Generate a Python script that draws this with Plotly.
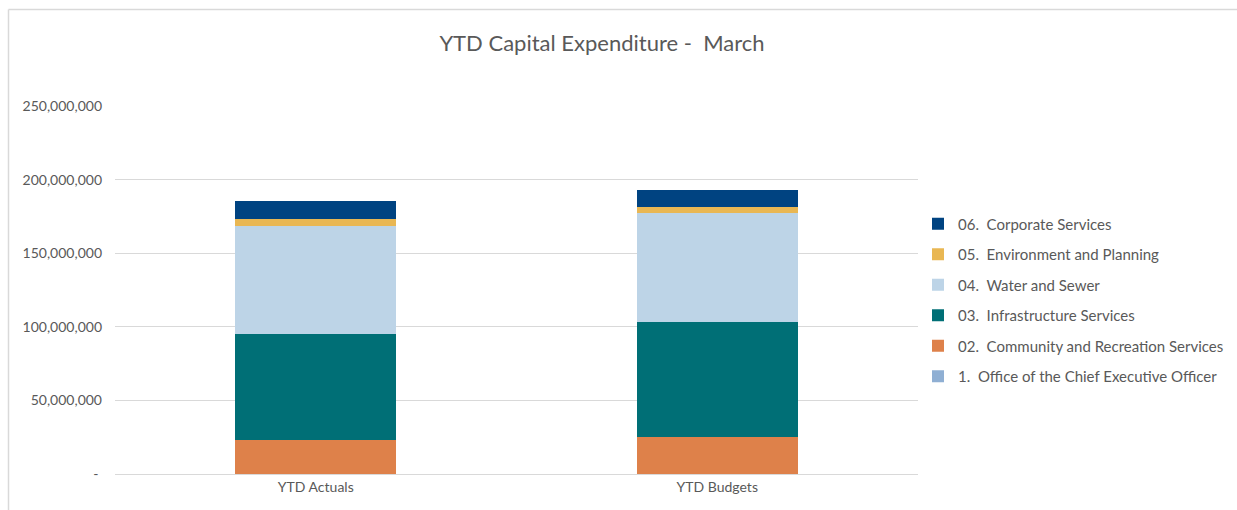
import plotly.graph_objects as go

categories = ["YTD Actuals", "YTD Budgets"]
series_names = [
    "1.  Office of the Chief Executive Officer",
    "02.  Community and Recreation Services",
    "03.  Infrastructure Services",
    "04.  Water and Sewer",
    "05.  Environment and Planning",
    "06.  Corporate Services",
]
ceo = [300000, 300000]
community = [22800000, 25100000]
infrastructure = [72000000, 77900000]
water = [73400000, 73800000]
environment = [4500000, 4500000]
corporate = [12500000, 11300000]
series_values = [ceo, community, infrastructure, water, environment, corporate]
colors = ["#8FAFD3", "#DE814A", "#006F76", "#BDD4E7", "#E9B753", "#004381"]

tick_vals = [0, 50000000, 100000000, 150000000, 200000000, 250000000]
tick_text = [" - ", "50,000,000", "100,000,000", "150,000,000", "200,000,000", "250,000,000"]

fig = go.Figure()
n = len(series_names)
for i, (name, vals, c) in enumerate(zip(series_names, series_values, colors)):
    fig.add_trace(go.Bar(
        x=categories, y=vals, name=name, marker_color=c,
        marker_line_width=0, legendrank=n - i, legendgroup=name,
    ))

font_family = "Lato, 'Open Sans', sans-serif"
fig.update_layout(
    barmode="stack",
    bargap=0.6,
    width=1237, height=510,
    margin=dict(l=115, r=319, t=106, b=36, autoexpand=False),
    paper_bgcolor="white", plot_bgcolor="white",
    title=dict(text="YTD Capital Expenditure -  March", x=602 / 1237, xanchor="center",
               y=1 - 43 / 510, yanchor="middle",
               font=dict(family=font_family, size=22, color="#595959")),
    font=dict(family=font_family, color="#595959", size=14),
    xaxis=dict(showgrid=False, showline=True, linecolor="#D9D9D9", linewidth=1,
               ticks="", tickfont=dict(size=14, color="#595959")),
    yaxis=dict(range=[0, 250000000], tickvals=tick_vals, ticktext=tick_text,
               showgrid=True, gridcolor="#D9D9D9", gridwidth=1, zeroline=False,
               ticks="", ticklen=0, ticklabelstandoff=12,
               tickfont=dict(size=14, color="#595959")),
    legend=dict(x=(918 - 115) / 803, xanchor="left", y=0.473, yanchor="middle",
                traceorder="grouped", tracegroupgap=8,
                font=dict(size=15, color="#595959"), itemwidth=30),
    shapes=[
        dict(type="line", xref="paper", yref="paper",
             x0=(8.5 - 115) / 803, x1=(1237 - 115) / 803,
             y0=(474 - 9.5) / 368, y1=(474 - 9.5) / 368,
             line=dict(color="#D9D9D9", width=1.5)),
        dict(type="line", xref="paper", yref="paper",
             x0=(8.5 - 115) / 803, x1=(8.5 - 115) / 803,
             y0=(474 - 9.5) / 368, y1=(474 - 510) / 368,
             line=dict(color="#D9D9D9", width=1.5)),
    ],
)

fig.write_html("out.html")
